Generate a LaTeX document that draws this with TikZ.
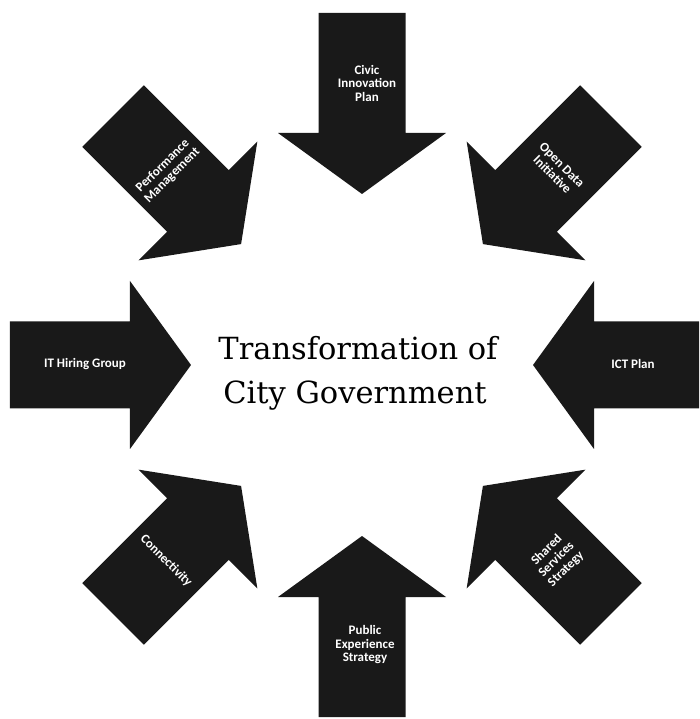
\documentclass[tikz,border=0pt]{standalone}
\usepackage{fontspec}
\newfontfamily\lblfont{Carlito}
\newfontfamily\titlefont{DejaVu Serif}
\begin{document}
\begin{tikzpicture}[x=1pt,y=1pt,
  bigarrow/.style={fill=black!90, draw=none},
  lbl/.style={text=white, font=\lblfont\bfseries\fontsize{13}{13.5}\selectfont, align=center, inner sep=0pt},
  title/.style={font=\titlefont\fontsize{30.5}{44}\selectfont, inner sep=0pt, anchor=base}]
\useasboundingbox (-362,-354) rectangle (337,365);
\clip (-362,-354) rectangle (337,365);
\foreach \a in {0,45,...,315}{
  \path[bigarrow,rotate=\a] (352,43.5) -- (232,43.5) -- (232,84) -- (171,0) -- (232,-84) -- (232,-43.5) -- (352,-43.5) -- cycle;
}
\node[lbl] (civic) at (5,282) {Civic\\Innovation\\Plan};
\node[lbl,rotate=-45] (opendata) at (45:276) {Open Data\\Initiative};
\node[lbl] (ict) at (271,1) {ICT Plan};
\node[lbl,rotate=45] (shared) at (315:275) {Shared\\Services\\Strategy};
\node[lbl] (public) at (3,-280) {Public\\Experience\\Strategy};
\node[lbl,rotate=-45] (conn) at (225:277) {Connectivity};
\node[lbl] (ithiring) at (-277,1) {IT Hiring Group};
\node[lbl,rotate=45] (perf) at (135:275) {Performance\\Management};
\node[title] (t1) at (-4,5) {Transformation of};
\node[title] (t2) at (-7,-39) {City Government};
\end{tikzpicture}
\end{document}
